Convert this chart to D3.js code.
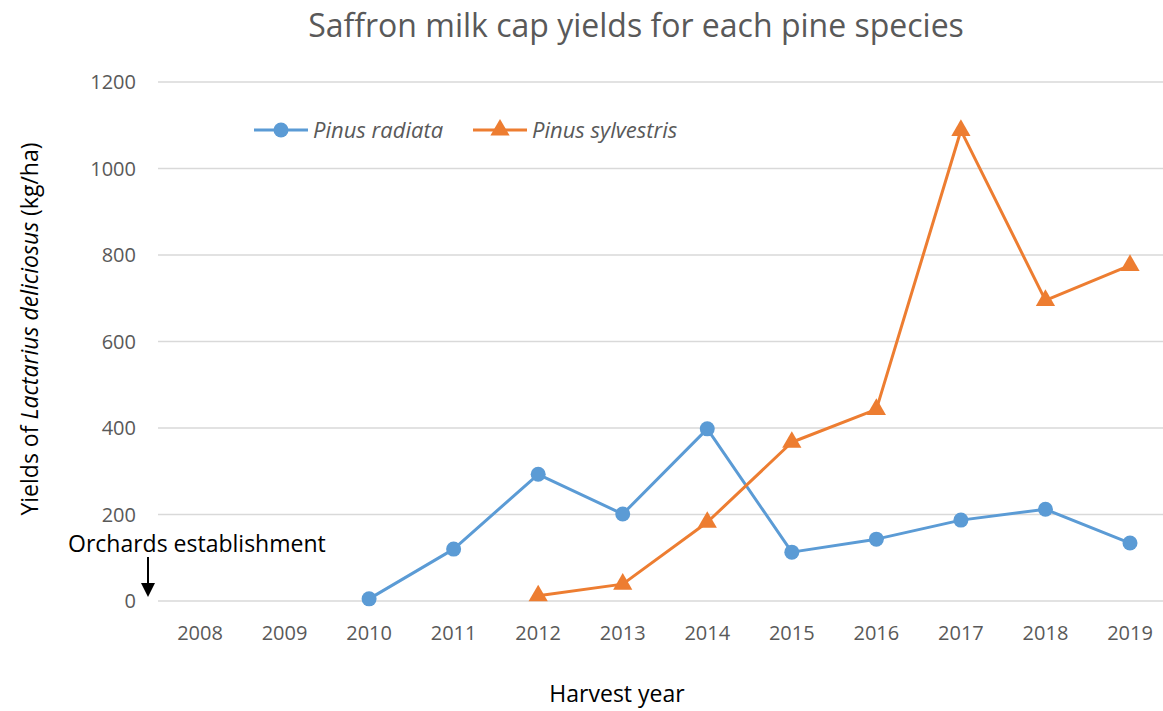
<!DOCTYPE html>
<html>
<head>
<meta charset="utf-8">
<script src="https://cdn.jsdelivr.net/npm/d3@7"></script>
<style>
  html, body { margin: 0; padding: 0; background: #fff; }
  svg { display: block; font-family: "Open Sans", Lato, sans-serif; }
</style>
</head>
<body>
<svg id="chart" width="1163" height="711"></svg>
<script>
// Harvest years on the category axis
const years = ["2008","2009","2010","2011","2012","2013","2014","2015","2016","2017","2018","2019"];
// Yields (kg/ha); null = no harvest yet
const radiata    = [null, null, 5, 120, 293, 201, 398, 113, 143, 187, 212, 134];
const sylvestris = [null, null, null, null, 12, 39, 182, 367, 443, 1088, 695, 776];
const yTicks = [0, 200, 400, 600, 800, 1000, 1200];

const BLUE = "#5B9BD5", ORANGE = "#ED7D31", GRID = "#D9D9D9", TXT = "#595959";

const svg = d3.select("#chart");
const x = d3.scalePoint().domain(years).range([200, 1130]);
const y = d3.scaleLinear().domain([0, 1200]).range([601, 82]);

// Horizontal gridlines
svg.append("g").selectAll("line").data(yTicks).join("line")
  .attr("x1", 158).attr("x2", 1172)
  .attr("y1", d => y(d)).attr("y2", d => y(d))
  .attr("stroke", GRID).attr("stroke-width", 1.5);

// Y axis labels
svg.append("g").selectAll("text").data(yTicks).join("text")
  .attr("x", 136).attr("y", d => y(d)).attr("dy", "0.35em")
  .attr("text-anchor", "end").attr("fill", TXT).attr("font-size", 20)
  .text(d => d);

// X axis labels
svg.append("g").selectAll("text").data(years).join("text")
  .attr("x", d => x(d)).attr("y", 640)
  .attr("text-anchor", "middle").attr("fill", TXT).attr("font-size", 20)
  .text(d => d);

// Title
svg.append("text").attr("x", 636).attr("y", 37).attr("text-anchor", "middle")
  .attr("fill", TXT).attr("font-size", 32).text("Saffron milk cap yields for each pine species");

// Axis titles
svg.append("text").attr("x", 617).attr("y", 702).attr("text-anchor", "middle")
  .attr("fill", "#000").attr("font-size", 23).text("Harvest year");

const yt = svg.append("text").attr("transform", "translate(38,329) rotate(-90)")
  .attr("text-anchor", "middle").attr("fill", "#000").attr("font-size", 23);
yt.append("tspan").text("Yields of ");
yt.append("tspan").attr("font-style", "italic").text("Lactarius deliciosus");
yt.append("tspan").text(" (kg/ha)");

// Series
const series = [
  { name: "Pinus radiata", values: radiata, color: BLUE, marker: "circle" },
  { name: "Pinus sylvestris", values: sylvestris, color: ORANGE, marker: "triangle" }
];

const line = d3.line()
  .defined(d => d.v !== null)
  .x(d => x(d.year)).y(d => y(d.v));

const triSym = d3.symbol().type(d3.symbolTriangle).size(160);

function drawMarker(g, cx, cy, s) {
  if (s.marker === "circle") {
    g.append("circle").attr("cx", cx).attr("cy", cy).attr("r", 7.5).attr("fill", s.color);
  } else {
    g.append("path").attr("d", triSym()).attr("transform", `translate(${cx},${cy})`).attr("fill", s.color);
  }
}

series.forEach(s => {
  const pts = years.map((yr, i) => ({ year: yr, v: s.values[i] }));
  svg.append("path").datum(pts).attr("d", line)
    .attr("fill", "none").attr("stroke", s.color).attr("stroke-width", 3)
    .attr("stroke-linejoin", "round");
  const g = svg.append("g");
  pts.filter(p => p.v !== null).forEach(p => drawMarker(g, x(p.year), y(p.v), s));
});

// Legend
const legendPos = [{ x0: 254, tx: 313 }, { x0: 473, tx: 532 }];
series.forEach((s, i) => {
  const lp = legendPos[i];
  const g = svg.append("g");
  g.append("line").attr("x1", lp.x0).attr("x2", lp.x0 + 54).attr("y1", 130).attr("y2", 130)
    .attr("stroke", s.color).attr("stroke-width", 3);
  drawMarker(g, lp.x0 + 27, 130, s);
  g.append("text").attr("x", lp.tx).attr("y", 130).attr("dy", "0.35em")
    .attr("font-style", "italic").attr("fill", TXT).attr("font-size", 22).text(s.name);
});

// Annotation: orchard establishment
svg.append("text").attr("x", 68).attr("y", 552).attr("fill", "#000").attr("font-size", 23)
  .text("Orchards establishment");
svg.append("line").attr("x1", 148).attr("x2", 148).attr("y1", 557).attr("y2", 584)
  .attr("stroke", "#000").attr("stroke-width", 2);
svg.append("path").attr("d", "M141,583 L155,583 L148,597 Z").attr("fill", "#000");
</script>
</body>
</html>
